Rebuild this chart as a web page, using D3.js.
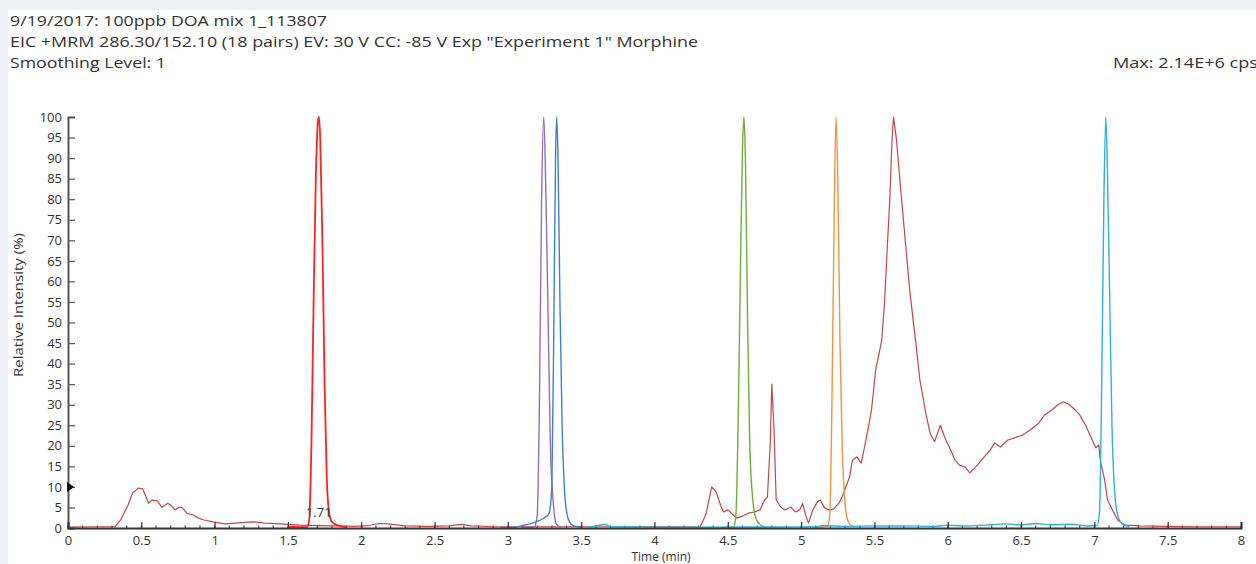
<!DOCTYPE html>
<html>
<head>
<meta charset="utf-8">
<script src="https://cdn.jsdelivr.net/npm/d3@7"></script>
<style>
  html, body { margin: 0; padding: 0; background: #eef0f3; }
  svg { display: block; }
  text { font-family: "Open Sans", "DejaVu Sans", sans-serif; fill: #333; }
</style>
</head>
<body>
<div id="chart"></div>
<script>
// ==============================
// DATA
// ==============================

const headerLines = [
  "9/19/2017: 100ppb DOA mix 1_113807",
  "EIC +MRM 286.30/152.10 (18 pairs) EV: 30 V CC: -85 V Exp \"Experiment 1\" Morphine",
  "Smoothing Level: 1"
];
const headerWidths = [317, 688, 156];   // rendered widths seen in the picture
const maxLabel = "Max: 2.14E+6 cps";
const peakLabel = { time: 1.71, text: "1.71" };
const markerLevel = 10;

const xTicks = [0, 0.5, 1, 1.5, 2, 2.5, 3, 3.5, 4, 4.5, 5, 5.5, 6, 6.5, 7, 7.5, 8];
const yTicks = [0, 5, 10, 15, 20, 25, 30, 35, 40, 45, 50, 55, 60, 65, 70, 75, 80, 85, 90, 95, 100];

// [time (min), relative intensity (%)]
const morphine = [
  [0, 0.2], [0.2, 0.3], [0.32, 0.3], [0.34, 1.2], [0.36, 2], [0.41, 5.6], [0.44, 8.5],
  [0.48, 9.7], [0.51, 9.5], [0.55, 6], [0.57, 6.8], [0.61, 6.6], [0.64, 5], [0.68, 6],
  [0.70, 5.6], [0.73, 4.4], [0.76, 5.1], [0.78, 4.9], [0.81, 3.6], [0.85, 3.2], [0.89, 2.4],
  [0.92, 2], [0.99, 1.5], [1.07, 1.0], [1.14, 1.2], [1.26, 1.5], [1.34, 1.2], [1.45, 1.0],
  [1.58, 0.7], [1.7, 0.6], [1.85, 0.5], [1.95, 0.4], [2.05, 0.6], [2.12, 1.1], [2.18, 1.0],
  [2.3, 0.5], [2.45, 0.4], [2.6, 0.5], [2.68, 0.9], [2.75, 0.5], [2.9, 0.3], [3.1, 0.3],
  [3.4, 0.3], [3.7, 0.3], [4.0, 0.3], [4.2, 0.3], [4.31, 0.2], [4.35, 3.2], [4.39, 10],
  [4.42, 8.8], [4.45, 5.6], [4.47, 3.9], [4.50, 4.4], [4.53, 3.4], [4.56, 2.4], [4.60, 2.9],
  [4.64, 3.6], [4.68, 3.9], [4.72, 4.4], [4.75, 6.8], [4.77, 7.5], [4.79, 21], [4.80, 35],
  [4.815, 24], [4.83, 6.8], [4.86, 5.1], [4.89, 4.4], [4.93, 5.1], [4.96, 3.9], [4.99, 4.4],
  [5.01, 6], [5.03, 3.2], [5.05, 1.2], [5.08, 4.4], [5.11, 6.3], [5.13, 6.8], [5.16, 4.9],
  [5.19, 4.4], [5.22, 4.6], [5.26, 6.1], [5.29, 8.5], [5.33, 12.4], [5.35, 16.5], [5.38, 17.3],
  [5.41, 15.8], [5.44, 21], [5.48, 28.7], [5.51, 39], [5.52, 40.4], [5.55, 45.7], [5.57, 55.5],
  [5.59, 70], [5.605, 80], [5.62, 94.6], [5.63, 100], [5.65, 94.6], [5.68, 82], [5.71, 70],
  [5.74, 58], [5.78, 45.7], [5.81, 36], [5.85, 28], [5.88, 23], [5.91, 21], [5.93, 23],
  [5.95, 25], [5.98, 22], [6.02, 19], [6.05, 16.5], [6.08, 15.3], [6.12, 14.8], [6.15, 13.4],
  [6.19, 14.8], [6.23, 16.5], [6.29, 19], [6.32, 20.7], [6.36, 19.7], [6.41, 21.4], [6.46, 22],
  [6.51, 22.6], [6.56, 23.8], [6.62, 25.5], [6.66, 27.5], [6.71, 28.7], [6.75, 30], [6.79, 30.7],
  [6.83, 30], [6.87, 28.7], [6.90, 27.5], [6.94, 25], [6.97, 22.6], [7.01, 19.5], [7.03, 20.2],
  [7.04, 16.5], [7.07, 11.7], [7.09, 6.8], [7.13, 3.9], [7.16, 1.9], [7.21, 0.7], [7.31, 0.5],
  [7.5, 0.4], [7.7, 0.3], [8, 0.3]
];

const redPeak = [
  [1.50, 0.3], [1.63, 0.2], [1.645, 2], [1.66, 20], [1.675, 55], [1.69, 85], [1.705, 99],
  [1.712, 100], [1.72, 95], [1.735, 70], [1.75, 35], [1.765, 12], [1.78, 4], [1.80, 1.5],
  [1.85, 0.5], [1.90, 0.2]
];
const purplePeak = [
  [3.10, 0], [3.18, 0.3], [3.20, 3], [3.215, 30], [3.23, 80], [3.245, 100], [3.26, 80],
  [3.275, 50], [3.29, 20], [3.31, 6], [3.33, 1], [3.36, 0.2]
];
const bluePeak = [
  [2.95, 0.1], [3.05, 0.2], [3.10, 0.6], [3.15, 1.0], [3.20, 1.6], [3.25, 2.5], [3.28, 3.5],
  [3.30, 10], [3.315, 55], [3.325, 90], [3.333, 100], [3.342, 90], [3.355, 55], [3.37, 25],
  [3.385, 10], [3.40, 4], [3.42, 1.5], [3.45, 0.5], [3.50, 0.2]
];
const greenPeak = [
  [4.45, 0], [4.54, 0.3], [4.555, 3], [4.57, 25], [4.585, 60], [4.60, 92], [4.61, 100],
  [4.62, 90], [4.635, 50], [4.65, 20], [4.67, 7], [4.69, 2.5], [4.72, 0.8], [4.76, 0.2]
];
const orangePeak = [
  [5.10, 0.2], [5.18, 0.4], [5.195, 3], [5.21, 30], [5.225, 75], [5.238, 100], [5.25, 85],
  [5.265, 45], [5.28, 20], [5.295, 8], [5.31, 3], [5.33, 1], [5.36, 0.3]
];
const cyanPeak = [
  [3.55, 0.2], [3.62, 0.6], [3.66, 0.9], [3.70, 0.3], [4.2, 0.2], [5.1, 0.3], [5.15, 0.6],
  [5.3, 0.4], [5.6, 0.5], [5.9, 0.4], [6.0, 0.7], [6.1, 0.5], [6.3, 0.8], [6.4, 1.0],
  [6.5, 0.7], [6.6, 1.1], [6.7, 0.8], [6.85, 0.9], [6.95, 0.5], [7.02, 0.6], [7.035, 4],
  [7.05, 35], [7.065, 80], [7.078, 100], [7.09, 85], [7.105, 55], [7.12, 25], [7.14, 8],
  [7.16, 3], [7.19, 1], [7.24, 0.3]
];

const series = [
  { name: "morphine", values: morphine, color: "#c6464a", width: 1.2, curve: d3.curveLinear },
  { name: "purple", values: purplePeak, color: "#8d6fc6", width: 1.4, curve: d3.curveMonotoneX },
  { name: "blue", values: bluePeak, color: "#3d80cf", width: 1.4, curve: d3.curveMonotoneX },
  { name: "green", values: greenPeak, color: "#6fae3c", width: 1.4, curve: d3.curveMonotoneX },
  { name: "orange", values: orangePeak, color: "#f6923f", width: 1.4, curve: d3.curveMonotoneX },
  { name: "cyan", values: cyanPeak, color: "#2fb0dd", width: 1.4, curve: d3.curveMonotoneX },
  { name: "red", values: redPeak, color: "#ff2222", width: 1.8, curve: d3.curveMonotoneX }
];

// ==============================
// SVG SETUP
// ==============================

const width = 1256;
const height = 564;

const svg = d3.select("#chart")
  .append("svg")
  .attr("width", width)
  .attr("height", height);

// white panel on grey page
svg.append("rect")
  .attr("x", 8).attr("y", 10)
  .attr("width", width - 8).attr("height", height - 10)
  .attr("fill", "#ffffff");

const x = d3.scaleLinear().domain([0, 8]).range([68, 1241]);
const y = d3.scaleLinear().domain([0, 100]).range([528, 117]);

// header text
svg.append("g")
  .selectAll("text")
  .data(headerLines)
  .enter()
  .append("text")
  .attr("x", 10)
  .attr("y", (d, i) => 26 + i * 21)
  .attr("font-size", 14)
  .attr("textLength", (d, i) => headerWidths[i])
  .attr("lengthAdjust", "spacingAndGlyphs")
  .text(d => d);

svg.append("text")
  .attr("x", 1258)
  .attr("y", 68)
  .attr("text-anchor", "end")
  .attr("font-size", 14)
  .attr("textLength", 145)
  .attr("lengthAdjust", "spacingAndGlyphs")
  .text(maxLabel);

// ==============================
// AXES
// ==============================

const yAxis = d3.axisLeft(y)
  .tickValues(yTicks)
  .tickSize(-7)
  .tickPadding(6)
  .tickFormat(d3.format("d"));

const gy = svg.append("g")
  .attr("transform", `translate(${x(0)},0)`)
  .call(yAxis);
gy.select(".domain").attr("stroke", "#555").attr("stroke-width", 2);
gy.selectAll(".tick line").attr("stroke", "#555").attr("stroke-width", 1.2);
gy.selectAll(".tick text").attr("font-size", 13).attr("fill", "#555")
  .attr("font-family", "\"Open Sans\", sans-serif");

// minor x ticks
const minorTicks = d3.range(0, 81).map(d => d / 10);
svg.append("g")
  .selectAll("line")
  .data(minorTicks)
  .enter()
  .append("line")
  .attr("x1", d => x(d)).attr("x2", d => x(d))
  .attr("y1", y(0)).attr("y2", y(0) - 2.5)
  .attr("stroke", "#444").attr("stroke-width", 1.2);

const xAxis = d3.axisBottom(x)
  .tickValues(xTicks)
  .tickSize(-6)
  .tickPadding(8)
  .tickFormat(d => d);

// ==============================
// TRACES
// ==============================

svg.append("g")
  .selectAll("path")
  .data(series)
  .enter()
  .append("path")
  .attr("d", d => d3.line()
    .x(p => x(p[0]))
    .y(p => y(p[1]))
    .curve(d.curve)(d.values))
  .attr("fill", "none")
  .attr("stroke", d => d.color)
  .attr("stroke-width", d => d.width)
  .attr("stroke-linejoin", "round");

const gx = svg.append("g")
  .attr("transform", `translate(0,${y(0)})`)
  .call(xAxis);
gx.select(".domain").attr("stroke", "#333").attr("stroke-width", 2);
gx.selectAll(".tick line").attr("stroke", "#333").attr("stroke-width", 1.2);
gx.selectAll(".tick text").attr("font-size", 13).attr("fill", "#555")
  .attr("font-family", "\"Open Sans\", sans-serif");

// black marker on the y axis
svg.append("path")
  .attr("d", `M${x(0) - 1},${y(markerLevel) - 5}L${x(0) + 6},${y(markerLevel)}L${x(0) - 1},${y(markerLevel) + 5}Z`)
  .attr("fill", "#111");

// peak annotation
svg.append("text")
  .attr("x", x(peakLabel.time))
  .attr("y", 517)
  .attr("text-anchor", "middle")
  .attr("font-size", 13)
  .attr("fill", "#333")
  .text(peakLabel.text);

// axis titles
svg.append("text")
  .attr("transform", "translate(23,305) rotate(-90)")
  .attr("text-anchor", "middle")
  .attr("font-size", 12.5)
  .attr("textLength", 144)
  .attr("lengthAdjust", "spacingAndGlyphs")
  .text("Relative Intensity (%)");

svg.append("text")
  .attr("x", 661)
  .attr("y", 561)
  .attr("text-anchor", "middle")
  .attr("font-size", 12)
  .text("Time (min)");
</script>
</body>
</html>
